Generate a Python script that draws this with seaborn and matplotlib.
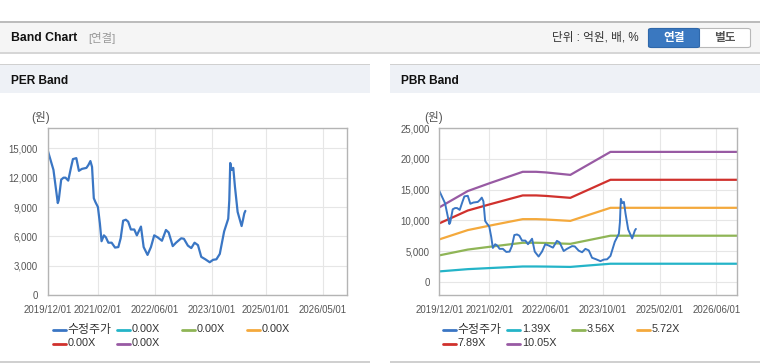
import numpy as np
import pandas as pd
import matplotlib
matplotlib.use('Agg')
import matplotlib.pyplot as plt
import seaborn as sns
from matplotlib.patches import Rectangle, FancyBboxPatch
from matplotlib.lines import Line2D

sns.set_style('white')
plt.rcParams['font.family'] = ['Liberation Sans', 'Noto Sans CJK KR', 'DejaVu Sans']

# adjusted share price (수정주가), in won
price_dates = ['2019-12-01', '2020-01-19', '2020-02-25', '2020-03-04', '2020-03-25', '2020-04-14',
               '2020-05-01', '2020-05-24', '2020-06-16', '2020-07-03', '2020-08-01', '2020-08-23',
               '2020-09-18', '2020-10-26', '2020-11-12', '2020-11-29', '2020-12-13', '2020-12-28',
               '2021-01-11', '2021-02-01', '2021-02-18', '2021-03-04', '2021-03-24', '2021-04-10',
               '2021-05-01', '2021-05-29', '2021-06-27', '2021-07-25', '2021-08-14', '2021-09-04',
               '2021-09-27', '2021-10-17', '2021-11-09', '2021-12-08', '2021-12-30', '2022-02-03',
               '2022-02-26', '2022-03-31', '2022-04-29', '2022-05-27', '2022-06-25', '2022-08-01',
               '2022-09-04', '2022-09-27', '2022-11-01', '2022-11-29', '2023-01-12', '2023-02-04',
               '2023-03-10', '2023-04-08', '2023-05-06', '2023-06-04', '2023-07-02', '2023-08-06',
               '2023-09-12', '2023-10-11', '2023-11-08', '2023-12-07', '2024-01-13', '2024-02-17',
               '2024-02-26', '2024-03-05', '2024-03-17', '2024-03-31', '2024-04-14', '2024-05-07',
               '2024-06-10', '2024-06-22', '2024-07-03', '2024-07-12']
price_values = [14800, 12800, 9400, 9700, 11800, 12000,
                12000, 11700, 13000, 13900, 14000, 12700,
                12900, 13000, 13300, 13700, 13100, 9900,
                9500, 9000, 7300, 5500, 6100, 5900,
                5350, 5350, 4850, 4900, 5800, 7600,
                7700, 7500, 6700, 6700, 6100, 7000,
                4900, 4100, 4900, 6100, 5900, 5550,
                6650, 6400, 5000, 5350, 5800, 5750,
                5050, 4800, 5350, 5100, 3900, 3650,
                3350, 3600, 3650, 4200, 6500, 7800,
                9700, 13500, 12800, 13000, 11100, 8500,
                7050, 7700, 8350, 8600]

# PBR band lines
band_dates = ['2019-12-01', '2020-08-01', '2021-02-01', '2021-11-15', '2022-03-10',
              '2022-06-01', '2022-12-28', '2023-12-07', '2026-12-01']
band_139 = [1675, 2043, 2217, 2477, 2477, 2463, 2407, 2926, 2926]
band_356 = [4290, 5233, 5678, 6344, 6344, 6308, 6166, 7494, 7494]
band_572 = [6893, 8408, 9123, 10193, 10193, 10136, 9907, 12041, 12041]
band_789 = [9507, 11598, 12585, 14060, 14060, 13981, 13665, 16608, 16608]
band_1005 = [12110, 14774, 16030, 17909, 17909, 17809, 17407, 21155, 21155]

per_labels = ['수정주가', '0.00X', '0.00X', '0.00X', '0.00X', '0.00X']
pbr_labels = ['수정주가', '1.39X', '3.56X', '5.72X', '7.89X', '10.05X']

per_xticks = ['2019-12-01', '2021-02-01', '2022-06-01', '2023-10-01', '2025-01-01', '2026-05-01']
pbr_xticks = ['2019-12-01', '2021-02-01', '2022-06-01', '2023-10-01', '2025-02-01', '2026-06-01']
per_yticks = [0, 3000, 6000, 9000, 12000, 15000]
pbr_yticks = [0, 5000, 10000, 15000, 20000, 25000]

price_color = '#3a76c4'
band_colors = ['#24b4c8', '#8fb556', '#f4a93c', '#d0312d', '#985aa3']

W, H = 760, 364
fig = plt.figure(figsize=(W / 100, H / 100), dpi=100)
fig.patch.set_facecolor('white')


def fx(x):
    return x / W


def fy(y):
    return 1 - y / H


def rect(x0, y0, x1, y1, color, **kw):
    fig.patches.append(Rectangle((fx(x0), fy(y1)), fx(x1 - x0), (y1 - y0) / H,
                                 transform=fig.transFigure, facecolor=color,
                                 edgecolor='none', **kw))


# top header bar
rect(0, 22, W, 52, '#f5f5f5')
rect(0, 21, W, 23, '#bcbcbc')
rect(0, 52, W, 54, '#d6d6d6')
fig.text(fx(11), fy(38), 'Band Chart', fontsize=8.8, fontweight='bold', color='#111111', va='center')
fig.text(fx(88), fy(38), '[연결]', fontsize=8.2, color='#999999', va='center')
fig.text(fx(552), fy(38), '단위 : 억원, 배, %', fontsize=8.4, color='#333333', va='center')
fig.patches.append(FancyBboxPatch((fx(648.5), fy(47.5)), fx(102), 19 / H,
                                  boxstyle='round,pad=0,rounding_size=0.004',
                                  transform=fig.transFigure, facecolor='white',
                                  edgecolor='#b8b8b8', linewidth=0.8))
fig.patches.append(FancyBboxPatch((fx(648.5), fy(47.5)), fx(51), 19 / H,
                                  boxstyle='round,pad=0,rounding_size=0.004',
                                  transform=fig.transFigure, facecolor='#3a78c0',
                                  edgecolor='#2f68ab', linewidth=0.8))
fig.text(fx(674), fy(38), '연결', fontsize=8.4, fontweight='bold', color='white', ha='center', va='center')
fig.text(fx(725), fy(38), '별도', fontsize=8.4, fontweight='bold', color='#555555', ha='center', va='center')

# panel headers and bottom rules
for (x0, x1, title) in [(0, 370, 'PER Band'), (390, W, 'PBR Band')]:
    rect(x0, 64, x1, 93, '#eef1f6')
    rect(x0, 63.5, x1, 65, '#d0d0d0')
    rect(x0, 361, x1, 362.5, '#d0d0d0')
    fig.text(fx(x0 + 11), fy(80.5), title, fontsize=8.6, fontweight='bold', color='#111111', va='center')

price_df = pd.DataFrame({'date': pd.to_datetime(price_dates), 'price': price_values})
band_df = pd.DataFrame({'date': pd.to_datetime(band_dates), '1.39X': band_139, '3.56X': band_356,
                        '5.72X': band_572, '7.89X': band_789, '10.05X': band_1005})


def style_axes(ax, xticks, yticks, ylim, label_x):
    ax.set_xlim(pd.Timestamp('2019-12-01'), pd.Timestamp('2026-11-28'))
    ax.set_ylim(*ylim)
    ax.set_xticks(pd.to_datetime(xticks))
    ax.set_xticklabels([d.replace('-', '/') for d in xticks])
    ax.set_yticks(yticks)
    ax.set_yticklabels([f'{v:,}' for v in yticks])
    ax.grid(True, color='#e6e6e6', linewidth=0.8)
    ax.set_axisbelow(True)
    for s in ax.spines.values():
        s.set_color('#b4b4b4')
        s.set_linewidth(1.0)
    ax.tick_params(axis='both', labelsize=6.9, colors='#555555', length=0, pad=7)
    ax.set_xlabel('')
    ax.set_ylabel('')
    fig.text(fx(label_x), fy(118), '(원)', fontsize=8.4, color='#555555', va='center')


def legend(x_start, labels):
    colors = [price_color] + band_colors
    for i, (lab, col) in enumerate(zip(labels, colors)):
        row, colno = divmod(i, 4)
        x = x_start + colno * 64.7
        y = 329.5 + row * 14
        fig.lines.append(Line2D([fx(x), fx(x + 13)], [fy(y), fy(y)], transform=fig.transFigure,
                                color=col, linewidth=2.0))
        size = 8.6 if lab == '수정주가' else 7.8
        fig.text(fx(x + 14.5), fy(y), lab, fontsize=size, color='#333333', va='center')


# PER band chart
ax1 = fig.add_axes([fx(47.7), fy(295), fx(347.3 - 47.7), (295 - 128.3) / H])
sns.lineplot(data=price_df, x='date', y='price', ax=ax1, color=price_color, linewidth=1.6)
style_axes(ax1, per_xticks, per_yticks, (0, 17050), 31)
legend(52.7, per_labels)

# PBR band chart
ax2 = fig.add_axes([fx(439.3), fy(295), fx(737.3 - 439.3), (295 - 128.3) / H])
for col, c in zip(['1.39X', '3.56X', '5.72X', '7.89X', '10.05X'], band_colors):
    sns.lineplot(data=band_df, x='date', y=col, ax=ax2, color=c, linewidth=1.6)
sns.lineplot(data=price_df, x='date', y='price', ax=ax2, color=price_color, linewidth=1.4)
style_axes(ax2, pbr_xticks, pbr_yticks, (-2170, 25000), 424)
legend(442.7, pbr_labels)

fig.savefig('out.png', dpi=100)
